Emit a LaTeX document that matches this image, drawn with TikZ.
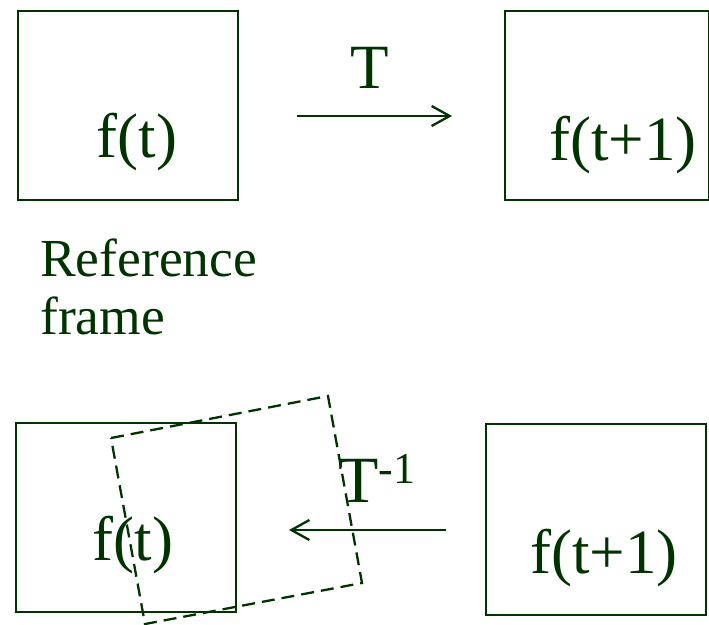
\documentclass[tikz,border=0pt]{standalone}
\usepackage{fontspec}
\setmainfont{Liberation Serif}
\usetikzlibrary{arrows.meta}
\definecolor{dkgreen}{RGB}{0,51,0}
\tikzset{
  box/.style={draw=dkgreen, line width=2.3pt, inner sep=0pt, anchor=north west},
  lbl/.style={text=dkgreen, inner sep=0pt, anchor=base, font=\fontsize{63}{70}\selectfont},
  small/.style={text=dkgreen, inner sep=0pt, anchor=base west, font=\fontsize{53.5}{58}\selectfont},
  arr/.style={draw=dkgreen, line width=2.3pt, -{Straight Barb[length=18pt,width=20pt,line width=2.3pt]}},
  dashbox/.style={draw=dkgreen, line width=2.3pt, dash pattern=on 13pt off 7pt}
}
\begin{document}
\begin{tikzpicture}[x=1pt,y=-1pt]
\useasboundingbox (0,0) rectangle (709,624);
% top row
\node[box, minimum width=220.5pt, minimum height=189pt] (b1) at (16.5,10) {};
\node[box, minimum width=204pt, minimum height=189pt] (b2) at (504,10) {};
\node[lbl] (t1) at (137,157) {f(t)};
\node[lbl] (t2) at (623,160) {f(t+1)};
\coordinate (a1s) at (297,116);
\coordinate (a1e) at (452,116);
\draw[arr] (a1s) -- (a1e);
\node[lbl] (T) at (370,88) {T};
% reference frame
\node[small] (r1) at (40,276) {Reference};
\node[small] (r2) at (40,334) {frame};
% bottom row
\node[box, minimum width=220.5pt, minimum height=189pt] (b3) at (14.5,422) {};
\node[box, minimum width=220pt, minimum height=191pt] (b4) at (485,423) {};
\draw[dashbox] (111,438) -- (328,396) -- (362,583) -- (145,624) -- cycle;
\node[lbl] (t3) at (133,560) {f(t)};
\node[lbl] (t4) at (604,573) {f(t+1)};
\coordinate (a2s) at (446,530);
\coordinate (a2e) at (289,530);
\draw[arr] (a2s) -- (a2e);
\node[lbl, anchor=base west, font=\fontsize{66}{70}\selectfont] (Ti) at (338,502) {T\raisebox{19pt}{\fontsize{44}{48}\selectfont -1}};
\end{tikzpicture}
\end{document}
